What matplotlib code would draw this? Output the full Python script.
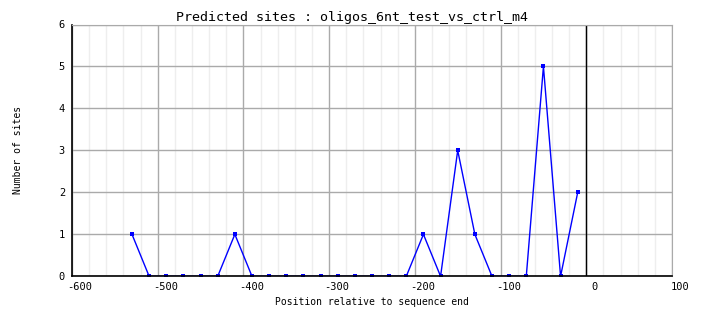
import matplotlib
matplotlib.use('Agg')
import matplotlib.pyplot as plt
import matplotlib.transforms as mtransforms
from matplotlib.ticker import MultipleLocator

# Data: positions relative to sequence end and number of predicted sites
positions = [-530, -510, -490, -470, -450, -430, -410, -390, -370, -350,
             -330, -310, -290, -270, -250, -230, -210, -190, -170, -150,
             -130, -110, -90, -70, -50, -30, -10]
sites = [1, 0, 0, 0, 0, 0, 1, 0, 0, 0,
         0, 0, 0, 0, 0, 0, 0, 1, 0, 3,
         1, 0, 0, 0, 5, 0, 2]

title = 'Predicted sites : oligos_6nt_test_vs_ctrl_m4'
xlabel = 'Position relative to sequence end'
ylabel = 'Number of sites'

plt.rcParams['font.family'] = 'DejaVu Sans Mono'
plt.rcParams['axes.unicode_minus'] = False

W, H = 704, 328
fig = plt.figure(figsize=(W / 100, H / 100), dpi=100)
ax = fig.add_axes([72 / W, (H - 276.3) / H, 600 / W, (276.3 - 24.5) / H])

ax.plot(positions, sites, color='#0000ff', linewidth=1,
        marker='s', markersize=2.5, markeredgewidth=0)

ax.set_xlim(-600, 100)
ax.set_ylim(0, 6)
ax.xaxis.set_major_locator(MultipleLocator(100))
ax.xaxis.set_minor_locator(MultipleLocator(20))
ax.yaxis.set_major_locator(MultipleLocator(1))

ax.grid(which='minor', axis='x', color='#eeeeee', linewidth=1)
ax.grid(which='major', color='#aaaaaa', linewidth=1)
ax.set_axisbelow(True)
ax.axvline(0, color='black', linewidth=1)

for side in ['top', 'right']:
    ax.spines[side].set_color('#aaaaaa')
for side in ['left', 'bottom']:
    ax.spines[side].set_color('black')
    ax.spines[side].set_linewidth(1.2)

ax.tick_params(which='both', length=0, labelsize=7.5)
ax.tick_params(axis='x', pad=4)
ax.tick_params(axis='y', pad=5)

# tick labels sit slightly to the right of their grid lines
offset = mtransforms.ScaledTranslation(8 / 100, 0, fig.dpi_scale_trans)
for lab in ax.get_xticklabels():
    lab.set_transform(lab.get_transform() + offset)

fig.text(0.5, (H - 17) / H, title, ha='center', va='center', fontsize=9.6)
fig.text(372 / W, (H - 302) / H, xlabel, ha='center', va='center', fontsize=7)
fig.text(18 / W, (H - 150) / H, ylabel, ha='center', va='center',
         rotation=90, fontsize=7)

fig.savefig('out.png', dpi=100)
